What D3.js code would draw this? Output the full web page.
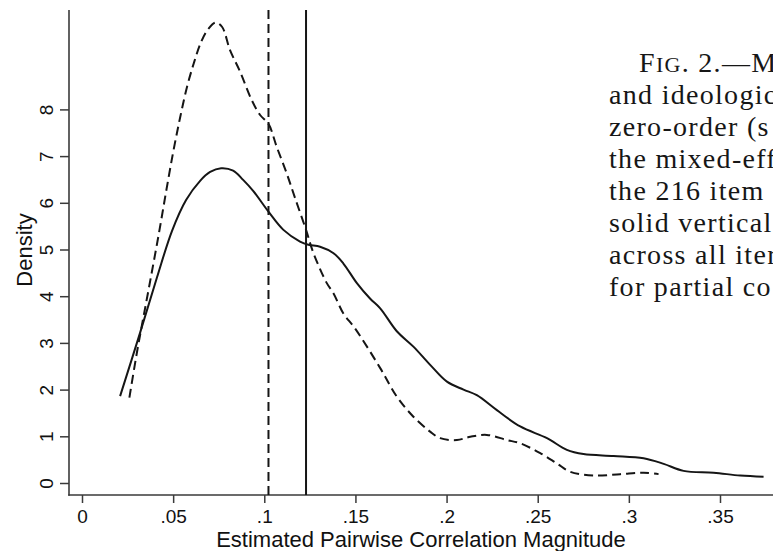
<!DOCTYPE html>
<html>
<head>
<meta charset="utf-8">
<script src="https://cdn.jsdelivr.net/npm/d3@7"></script>
<style>
  html, body { margin: 0; padding: 0; background: #fff; overflow: hidden; }
  svg { display: block; }
</style>
</head>
<body>
<svg id="chart" width="773" height="551"></svg>
<script>
// ---- data ----
const xTickValues = [0, 0.05, 0.1, 0.15, 0.2, 0.25, 0.3, 0.35];
const xTickLabels = ["0", ".05", ".1", ".15", ".2", ".25", ".3", ".35"];
const yTickValues = [0, 1, 2, 3, 4, 5, 6, 7, 8];
const yTickLabels = ["0", "1", "2", "3", "4", "5", "6", "7", "8"];

// solid density curve
const solidX = [0.0209, 0.0318, 0.0412, 0.0494, 0.0571, 0.0648, 0.0703, 0.0763, 0.0829, 0.0884,
  0.0940, 0.1023, 0.1105, 0.1196, 0.1242, 0.1306, 0.138, 0.1434, 0.1508, 0.158,
  0.1636, 0.1727, 0.1818, 0.191, 0.2002, 0.2093, 0.2166, 0.2276, 0.2404, 0.2551,
  0.266, 0.2751, 0.2916, 0.3081, 0.3191, 0.33, 0.3465, 0.3611, 0.3739];
const solidY = [1.86, 3.21, 4.41, 5.40, 6.06, 6.47, 6.66, 6.74, 6.69, 6.49,
  6.25, 5.81, 5.42, 5.17, 5.10, 5.06, 4.92, 4.70, 4.28, 3.95,
  3.74, 3.25, 2.92, 2.53, 2.17, 2.00, 1.88, 1.56, 1.21, 0.96,
  0.71, 0.62, 0.58, 0.53, 0.41, 0.26, 0.22, 0.16, 0.135];

// dashed density curve
const dashedX = [0.0260, 0.0302, 0.0336, 0.0379, 0.0423, 0.0461, 0.0499, 0.0538, 0.0576, 0.0615,
  0.0653, 0.0692, 0.0733, 0.0768, 0.0812, 0.0867, 0.0931, 0.0977, 0.1023, 0.1068,
  0.1123, 0.1169, 0.1229, 0.127, 0.1343, 0.138, 0.1434, 0.1498, 0.1636, 0.1727,
  0.1818, 0.191, 0.1965, 0.2057, 0.213, 0.2221, 0.2331, 0.2404, 0.2514, 0.2605,
  0.2678, 0.2806, 0.2953, 0.3081, 0.3163];
const dashedY = [1.83, 2.81, 3.53, 4.43, 5.37, 6.23, 7.06, 7.82, 8.48, 9.01,
  9.44, 9.72, 9.86, 9.77, 9.27, 8.81, 8.20, 7.88, 7.69, 7.20,
  6.63, 6.10, 5.42, 4.92, 4.28, 4.06, 3.63, 3.31, 2.46, 1.85,
  1.42, 1.10, 0.96, 0.92, 0.99, 1.03, 0.92, 0.85, 0.64, 0.42,
  0.24, 0.16, 0.19, 0.22, 0.19];

// vertical reference lines (means)
const solidMean = 0.1229;
const dashedMean = 0.1023;

const xAxisTitle = "Estimated Pairwise Correlation Magnitude";
const yAxisTitle = "Density";

const captionLines = [
  "and ideologic",
  "zero-order (s",
  "the mixed-eff",
  "the 216 item",
  "solid vertical",
  "across all iter",
  "for partial co"
];

// ---- drawing ----
const svg = d3.select("#chart");
const ink = "#151515";
const axisColor = "#3a3a3a";

const x = d3.scaleLinear().domain([0, 0.35]).range([82, 720]);
const y = d3.scaleLinear().domain([0, 8]).range([483, 109.4]);

const axisLeftX = 69, axisBottomY = 495, axisTopY = 10, axisRightX = 773;

// axis lines
svg.append("line").attr("x1", axisLeftX).attr("x2", axisLeftX)
  .attr("y1", axisTopY).attr("y2", axisBottomY + 0.75)
  .attr("stroke", axisColor).attr("stroke-width", 1.6);
svg.append("line").attr("x1", axisLeftX - 0.75).attr("x2", axisRightX)
  .attr("y1", axisBottomY).attr("y2", axisBottomY)
  .attr("stroke", axisColor).attr("stroke-width", 1.6);

// x axis ticks
const gx = svg.append("g").attr("transform", `translate(0,${axisBottomY})`)
  .call(d3.axisBottom(x).tickValues(xTickValues)
    .tickFormat((d, i) => xTickLabels[i]).tickSize(8).tickPadding(4));
gx.select(".domain").remove();
gx.selectAll(".tick line").attr("stroke", axisColor).attr("stroke-width", 1.5);
gx.selectAll(".tick text").attr("fill", "#111")
  .attr("font-family", "Liberation Sans, Arial, sans-serif").attr("font-size", 19)
  .attr("dy", null).attr("y", 28);

// y axis ticks
const gy = svg.append("g").attr("transform", `translate(${axisLeftX},0)`)
  .call(d3.axisLeft(y).tickValues(yTickValues)
    .tickFormat((d, i) => yTickLabels[i]).tickSize(9));
gy.select(".domain").remove();
gy.selectAll(".tick line").attr("stroke", axisColor).attr("stroke-width", 1.5);
gy.selectAll(".tick text")
  .attr("fill", "#111")
  .attr("font-family", "Liberation Sans, Arial, sans-serif").attr("font-size", 19)
  .attr("x", null).attr("dy", null)
  .attr("text-anchor", "middle")
  .attr("transform", "translate(-16,0) rotate(-90)");

// axis titles
svg.append("text")
  .attr("x", 421).attr("y", 547)
  .attr("text-anchor", "middle")
  .attr("font-family", "Liberation Sans, Arial, sans-serif")
  .attr("font-size", 22).attr("fill", "#111")
  .text(xAxisTitle);

svg.append("text")
  .attr("transform", "translate(32,250) rotate(-90)")
  .attr("text-anchor", "middle")
  .attr("font-family", "Liberation Sans, Arial, sans-serif")
  .attr("font-size", 22).attr("fill", "#111")
  .text(yAxisTitle);

// vertical mean lines
svg.append("line")
  .attr("x1", x(dashedMean)).attr("x2", x(dashedMean))
  .attr("y1", axisTopY).attr("y2", axisBottomY)
  .attr("stroke", ink).attr("stroke-width", 2).attr("stroke-dasharray", "9,5");
svg.append("line")
  .attr("x1", x(solidMean)).attr("x2", x(solidMean))
  .attr("y1", axisTopY).attr("y2", axisBottomY)
  .attr("stroke", ink).attr("stroke-width", 2);

// density curves
const line = d3.line()
  .x(d => x(d[0])).y(d => y(d[1]))
  .curve(d3.curveCatmullRom.alpha(0.5));

const solidData = solidX.map((v, i) => [v, solidY[i]]);
const dashedData = dashedX.map((v, i) => [v, dashedY[i]]);

svg.append("path").datum(dashedData)
  .attr("d", line).attr("fill", "none")
  .attr("stroke", ink).attr("stroke-width", 2)
  .attr("stroke-dasharray", "9,5");

svg.append("path").datum(solidData)
  .attr("d", line).attr("fill", "none")
  .attr("stroke", ink).attr("stroke-width", 2);

// caption text (cropped at the right edge in the reference)
const serif = "Liberation Serif, Times New Roman, serif";
const cap = svg.append("g").attr("font-family", serif).attr("fill", "#161616")
  .attr("font-size", 28).attr("letter-spacing", 1.3);

const first = cap.append("text").attr("x", 639).attr("y", 72);
first.append("tspan").text("F");
first.append("tspan").attr("font-size", 22).text("IG");
first.append("tspan").text(". 2.—M");

captionLines.forEach((t, i) => {
  cap.append("text").attr("x", 609).attr("y", 104 + i * 32).text(t);
});
</script>
</body>
</html>
